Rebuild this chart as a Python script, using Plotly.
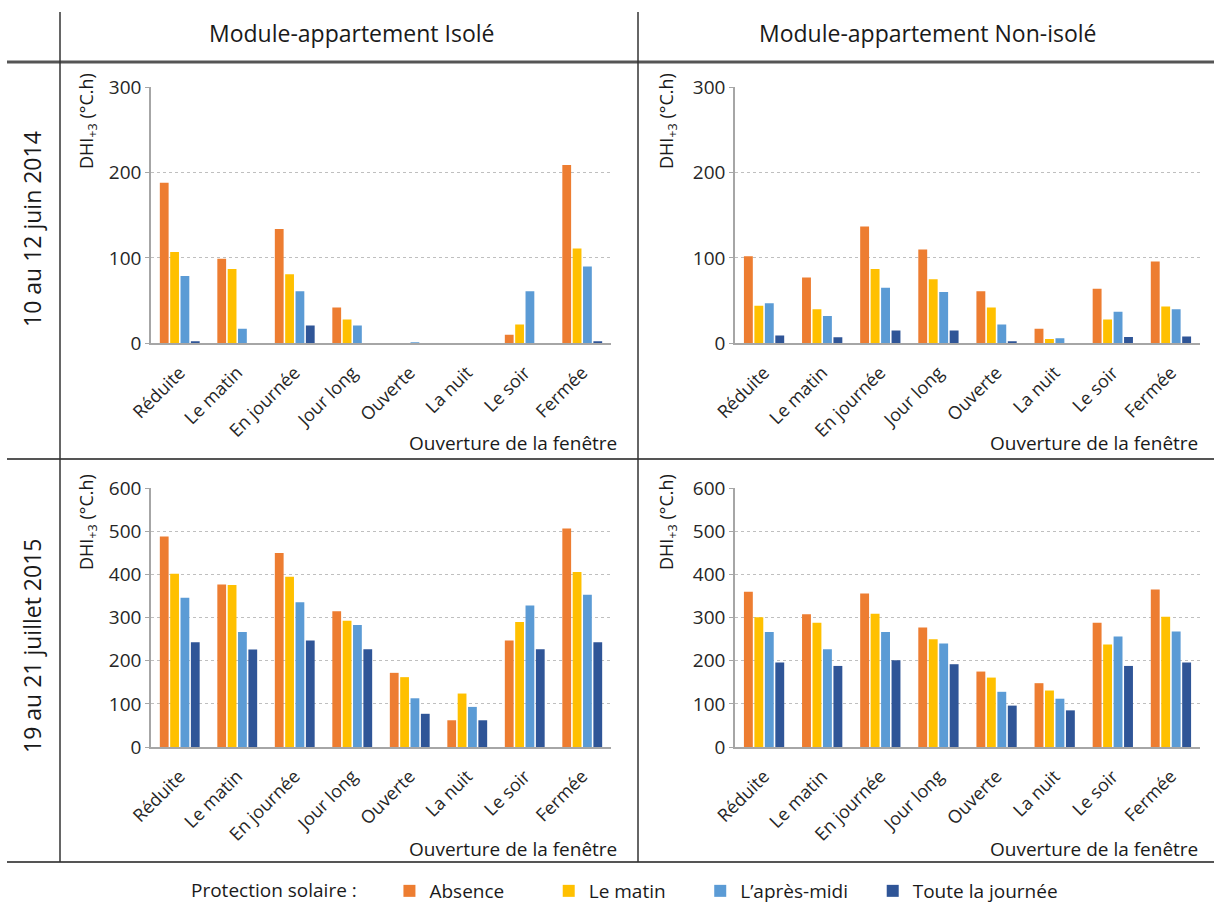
import plotly.graph_objects as go

categories = ["Réduite", "Le matin", "En journée", "Jour long", "Ouverte", "La nuit", "Le soir", "Fermée"]
series_names = ["Absence", "Le matin", "L’après-midi", "Toute la journée"]
colors = ["#ED7D31", "#FFC000", "#5B9BD5", "#2F5597"]

# 10 au 12 juin 2014 - Isolé
iso_2014_absence = [188, 99, 134, 42, 0, 0, 10, 209]
iso_2014_matin = [107, 87, 81, 28, 0, 0, 22, 111]
iso_2014_apresmidi = [79, 17, 61, 21, 1, 0, 61, 90]
iso_2014_journee = [1.5, 0, 21, 0, 0, 0, 0, 2]

# 10 au 12 juin 2014 - Non-isolé
non_2014_absence = [102, 77, 137, 110, 61, 17, 64, 96]
non_2014_matin = [44, 40, 87, 75, 42, 5, 28, 43]
non_2014_apresmidi = [47, 32, 65, 60, 22, 6, 37, 40]
non_2014_journee = [9, 7, 15, 15, 2, 0, 7.5, 8]

# 19 au 21 juillet 2015 - Isolé
iso_2015_absence = [488, 377, 450, 315, 172, 62, 247, 507]
iso_2015_matin = [402, 376, 395, 293, 162, 124, 290, 406]
iso_2015_apresmidi = [346, 267, 336, 283, 113, 93, 328, 353]
iso_2015_journee = [243, 226, 247, 227, 77, 62, 227, 243]

# 19 au 21 juillet 2015 - Non-isolé
non_2015_absence = [360, 308, 356, 277, 175, 148, 288, 365]
non_2015_matin = [301, 288, 309, 250, 161, 131, 238, 302]
non_2015_apresmidi = [267, 227, 267, 240, 128, 112, 256, 268]
non_2015_journee = [196, 188, 201, 192, 96, 85, 188, 196]

col_titles = ["Module-appartement Isolé", "Module-appartement Non-isolé"]
row_titles = ["10 au 12 juin 2014", "19 au 21 juillet 2015"]
x_title = "Ouverture de la fenêtre"
y_title = "DHI<sub>+3</sub> (°C.h)"
legend_title = "Protection solaire :"
y_ranges = [300, 600]

panels = [
    ("x", "y", [iso_2014_absence, iso_2014_matin, iso_2014_apresmidi, iso_2014_journee]),
    ("x2", "y2", [non_2014_absence, non_2014_matin, non_2014_apresmidi, non_2014_journee]),
    ("x3", "y3", [iso_2015_absence, iso_2015_matin, iso_2015_apresmidi, iso_2015_journee]),
    ("x4", "y4", [non_2015_absence, non_2015_matin, non_2015_apresmidi, non_2015_journee]),
]

W, H = 1214, 906
FONT = "Open Sans"
TXT = "#1a1a1a"
NB = "\u00a0"
# trailing non-breaking spaces give the legend entries the reference spacing
legend_pad = [8, 6, 4, 0]

fig = go.Figure()
for pi, (xa, ya, data) in enumerate(panels):
    for si, vals in enumerate(data):
        fig.add_trace(go.Bar(
            x=categories, y=vals, name=series_names[si] + NB * legend_pad[si],
            marker=dict(color=colors[si], line=dict(width=0)),
            xaxis=xa, yaxis=ya, legendgroup=series_names[si],
            showlegend=(pi == 0),
        ))

def px_x(p):
    return p / W

def px_y(p):
    return 1 - p / H

x_dom_left = [px_x(151), px_x(611)]
x_dom_right = [px_x(735), px_x(1200)]
y_dom_top = [px_y(343.3), px_y(87.3)]
y_dom_bot = [px_y(747), px_y(488.3)]

axis_common_x = dict(
    type="category", showline=True, linecolor="#A6A6A6", linewidth=1.5,
    ticks="", tickangle=-45, ticklabelstandoff=10,
    tickfont=dict(family=FONT, size=18, color="#262626"),
    showgrid=False, zeroline=False, fixedrange=True, automargin=False,
)
def yax(rng, dom, anchor):
    return dict(
        range=[0, rng], dtick=100, domain=dom, anchor=anchor,
        showline=True, linecolor="#A6A6A6", linewidth=1.5,
        ticks="outside", ticklen=4, tickcolor="#A6A6A6",
        tickfont=dict(family=FONT, size=19, color="#262626"),
        showgrid=True, gridcolor="#BFBFBF", griddash="dot", gridwidth=1,
        zeroline=False, fixedrange=True, automargin=False,
    )

fig.update_layout(
    width=W, height=H, autosize=False,
    margin=dict(l=0, r=0, t=0, b=0, pad=0, autoexpand=False),
    paper_bgcolor="white", plot_bgcolor="white",
    barmode="group", bargap=0.28, bargroupgap=0.15,
    font=dict(family=FONT, color=TXT),
    xaxis=dict(axis_common_x, domain=x_dom_left, anchor="y"),
    xaxis2=dict(axis_common_x, domain=x_dom_right, anchor="y2"),
    xaxis3=dict(axis_common_x, domain=x_dom_left, anchor="y3"),
    xaxis4=dict(axis_common_x, domain=x_dom_right, anchor="y4"),
    yaxis=yax(y_ranges[0], y_dom_top, "x"),
    yaxis2=yax(y_ranges[0], y_dom_top, "x2"),
    yaxis3=yax(y_ranges[1], y_dom_bot, "x3"),
    yaxis4=yax(y_ranges[1], y_dom_bot, "x4"),
    legend=dict(
        orientation="h", x=px_x(189), xanchor="left", y=px_y(891), yanchor="middle",
        font=dict(family=FONT, size=19, color=TXT),
        title=dict(text=legend_title + "     ", side="left", font=dict(family=FONT, size=19, color=TXT)),
        traceorder="normal", bgcolor="rgba(0,0,0,0)",
        borderwidth=0, tracegroupgap=0,
    ),
)

ann = []
for cx, t in zip([351, 928], col_titles):
    ann.append(dict(text=t, x=px_x(cx), y=px_y(33), xref="paper", yref="paper",
                    xanchor="center", yanchor="middle", showarrow=False,
                    font=dict(family=FONT, size=23, color=TXT)))
for cy, t in zip([229, 646], row_titles):
    ann.append(dict(text=t, x=px_x(32), y=px_y(cy), xref="paper", yref="paper",
                    xanchor="center", yanchor="middle", showarrow=False, textangle=-90,
                    font=dict(family=FONT, size=23, color=TXT)))
for cx in [87, 667]:
    for cy in [121, 522]:
        ann.append(dict(text=y_title, x=px_x(cx), y=px_y(cy), xref="paper", yref="paper",
                        xanchor="center", yanchor="middle", showarrow=False, textangle=-90,
                        font=dict(family=FONT, size=18, color=TXT)))
for rx in [619, 1200]:
    for cy in [443, 849]:
        ann.append(dict(text=x_title, x=px_x(rx), y=px_y(cy), xref="paper", yref="paper",
                        xanchor="right", yanchor="middle", showarrow=False,
                        font=dict(family=FONT, size=19, color=TXT)))
fig.update_layout(annotations=ann)

shapes = []
shapes.append(dict(type="line", xref="paper", yref="paper", x0=px_x(7), x1=1, y0=px_y(62), y1=px_y(62),
                   line=dict(color="#555555", width=3)))
for yy in [459, 862]:
    shapes.append(dict(type="line", xref="paper", yref="paper", x0=px_x(7), x1=1, y0=px_y(yy), y1=px_y(yy),
                       line=dict(color="#555555", width=2)))
for xx in [60, 638]:
    shapes.append(dict(type="line", xref="paper", yref="paper", x0=px_x(xx), x1=px_x(xx), y0=px_y(12), y1=px_y(862),
                       line=dict(color="#333333", width=1.5)))
fig.update_layout(shapes=shapes)

fig.write_html("out.html", config={"displayModeBar": False},
               post_script="document.body.style.margin='0';")
